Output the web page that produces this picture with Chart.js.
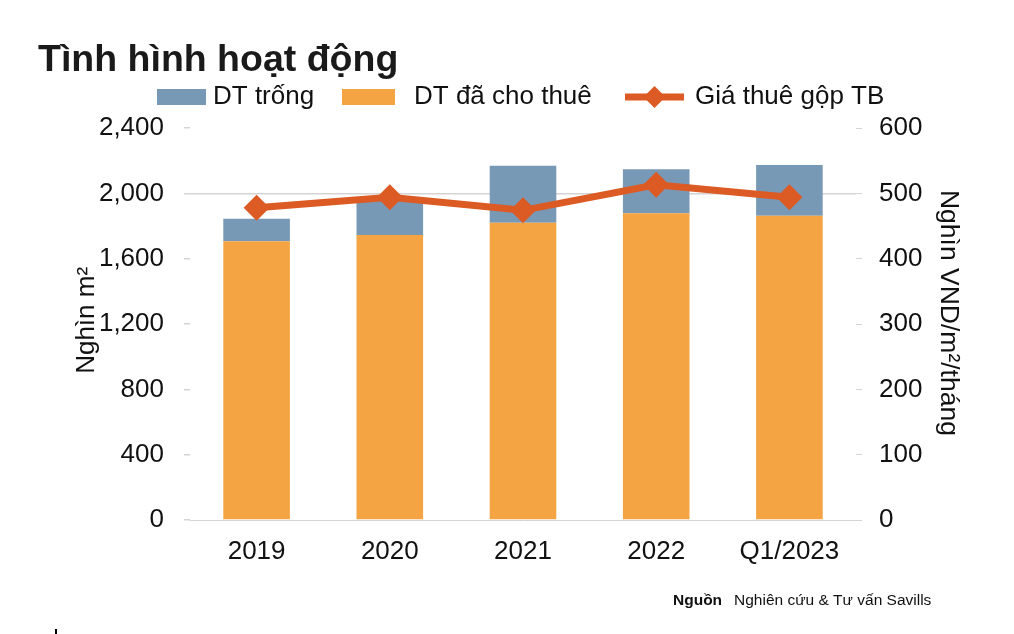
<!DOCTYPE html>
<html><head><meta charset="utf-8">
<script src="https://cdn.jsdelivr.net/npm/chart.js@4.4.0/dist/chart.umd.min.js"></script>
<style>html,body{margin:0;padding:0;background:#fff;overflow:hidden}
#wrap{position:relative;width:1014px;height:634px}</style></head><body>
<div id="wrap"><canvas id="c" width="1014" height="634"></canvas></div>
<script>
const categories = ['2019', '2020', '2021', '2022', 'Q1/2023'];
const leased = [1706, 1745, 1820, 1878, 1863];
const vacant = [139, 230, 349, 269, 310];
const rent = [478, 494, 474, 513, 494];
const leftTicks = [0, 400, 800, 1200, 1600, 2000, 2400];
const rightTicks = [0, 100, 200, 300, 400, 500, 600];
const seriesNames = ['DT trống', 'DT đã cho thuê', 'Giá thuê gộp TB'];
const chartTitle = 'Tình hình hoạt động';
const leftTitle = 'Nghìn m²';
const rightTitle = 'Nghìn VND/m²/tháng';
const sourceLabel = 'Nguồn';
const sourceText = 'Nghiên cứu & Tư vấn Savills';

const BLUE = '#7799b6', ORANGE = '#f4a443', RED = '#dc5a23', GRID = '#d4d4d4', TXT = '#111';
const FONT = '"Liberation Sans", Arial, sans-serif';

const decor = {
  id: 'decor',
  afterDraw(chart) {
    const ctx = chart.ctx;
    ctx.save();
    ctx.fillStyle = '#1a1a1a';
    ctx.font = 'bold 37.5px ' + FONT;
    ctx.textBaseline = 'alphabetic';
    ctx.fillText(chartTitle, 38, 71);
    // legend
    const ly = 97;
    ctx.font = '26px ' + FONT;
    ctx.textBaseline = 'middle';
    ctx.fillStyle = BLUE; ctx.fillRect(157, 89, 49, 16);
    ctx.fillStyle = TXT; ctx.fillText(seriesNames[0], 213, ly);
    ctx.fillStyle = ORANGE; ctx.fillRect(342, 89, 53, 16);
    ctx.fillStyle = TXT; ctx.fillText(seriesNames[1], 414, ly);
    ctx.strokeStyle = RED; ctx.lineWidth = 7;
    ctx.beginPath(); ctx.moveTo(625, ly); ctx.lineTo(684, ly); ctx.stroke();
    ctx.fillStyle = RED; ctx.beginPath();
    ctx.moveTo(654.5, ly - 11); ctx.lineTo(665.5, ly); ctx.lineTo(654.5, ly + 11); ctx.lineTo(643.5, ly); ctx.closePath(); ctx.fill();
    ctx.fillStyle = TXT; ctx.fillText(seriesNames[2], 695, ly);
    // source
    ctx.textBaseline = 'alphabetic';
    ctx.font = 'bold 15.5px ' + FONT;
    ctx.fillStyle = '#111';
    ctx.fillText(sourceLabel, 673, 605);
    ctx.font = '15.5px ' + FONT;
    ctx.fillText(sourceText, 734, 605);
    ctx.fillStyle = '#000';
    ctx.fillRect(55, 629, 2, 5);
    ctx.restore();
  }
};

new Chart(document.getElementById('c'), {
  type: 'bar',
  data: {
    labels: categories,
    datasets: [
      { type: 'line', label: seriesNames[2], data: rent, yAxisID: 'y1', order: 0,
        borderColor: RED, backgroundColor: RED, borderWidth: 7, tension: 0,
        pointStyle: 'rectRot', pointRadius: 13, pointHoverRadius: 13, pointBorderWidth: 0,
        pointBackgroundColor: RED },
      { label: seriesNames[1], data: leased, backgroundColor: ORANGE, yAxisID: 'y', order: 1, stack: 's',
        barPercentage: 0.5, categoryPercentage: 1.0 },
      { label: seriesNames[0], data: vacant, backgroundColor: BLUE, yAxisID: 'y', order: 2, stack: 's',
        barPercentage: 0.5, categoryPercentage: 1.0 }
    ]
  },
  options: {
    responsive: false, animation: false, devicePixelRatio: 1,
    layout: { padding: { top: 128, left: 0, right: 0, bottom: 0 } },
    plugins: { legend: { display: false }, tooltip: { enabled: false }, title: { display: false } },
    scales: {
      x: {
        stacked: true,
        grid: { display: false, drawTicks: false },
        border: { display: true, color: GRID, width: 1 },
        ticks: { color: TXT, font: { family: FONT, size: 26 }, padding: 16, maxRotation: 0 },
        afterFit(s) { s.height = 114; }
      },
      y: {
        position: 'left', stacked: true, min: 0, max: 2400,
        afterBuildTicks(s) { s.ticks = leftTicks.map(v => ({ value: v })); },
        ticks: { color: TXT, font: { family: FONT, size: 26 }, padding: 20,
          callback: v => v.toLocaleString('en-US') },
        grid: { color: c => (c.tick && c.tick.value === 2000) ? GRID : 'rgba(0,0,0,0)', tickColor: GRID, tickLength: 6, lineWidth: 1.5 },
        border: { display: false },
        title: { display: true, text: ' ' + leftTitle, color: TXT, font: { family: FONT, size: 26 }, padding: { top: 71, bottom: 0 } },
        afterFit(s) { s.width = 190; }
      },
      y1: {
        position: 'right', min: 0, max: 600,
        afterBuildTicks(s) { s.ticks = rightTicks.map(v => ({ value: v })); },
        ticks: { color: TXT, font: { family: FONT, size: 26 }, padding: 17 },
        grid: { drawOnChartArea: false, tickColor: GRID, tickLength: 6 },
        border: { display: false },
        title: { display: true, text: rightTitle + '   ', color: TXT, font: { family: FONT, size: 26.5 }, padding: { top: 50, bottom: 0 } },
        afterFit(s) { s.width = 158; }
      }
    }
  },
  plugins: [decor]
});
</script></body></html>
